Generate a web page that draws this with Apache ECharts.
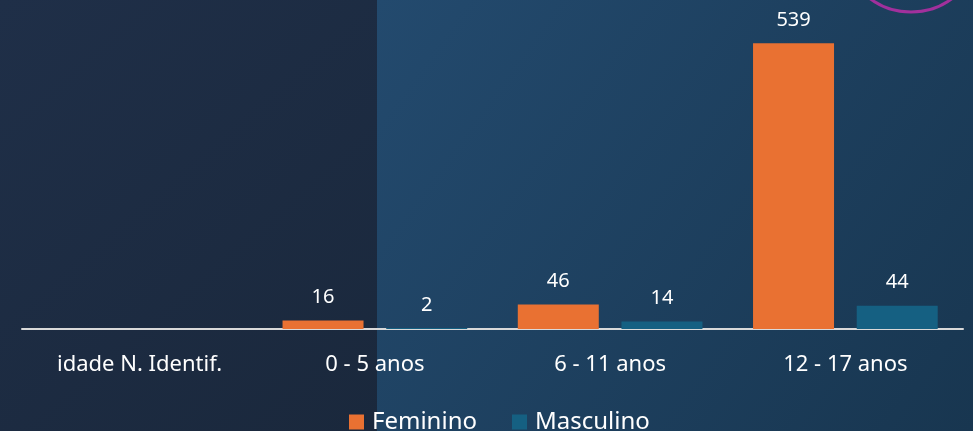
<!DOCTYPE html>
<html><head><meta charset="utf-8">
<script src="https://cdn.jsdelivr.net/npm/echarts@6/dist/echarts.min.js"></script>
<style>html,body{margin:0;padding:0;background:#1e2c43;}#c{width:973px;height:431px;}</style>
</head><body><div id="c"></div>
<script>
const categories = ['idade N. Identif.', '0 - 5 anos', '6 - 11 anos', '12 - 17 anos'];
const feminino = [null, 16, 46, 539];
const masculino = [null, 2, 14, 44];
const seriesNames = ['Feminino', 'Masculino'];

const chart = echarts.init(document.getElementById('c'));
const font = 'Noto Sans';
chart.setOption({
  animation: false,
  graphic: [
    {type:'rect', z:-10, shape:{x:0,y:0,width:377,height:431},
     style:{fill:new echarts.graphic.LinearGradient(0,0,1,1,[{offset:0,color:'#1f2f48'},{offset:1,color:'#1a283c'}])}},
    {type:'rect', z:-10, shape:{x:377,y:0,width:596,height:431},
     style:{fill:new echarts.graphic.LinearGradient(0,0,1,1,[{offset:0,color:'#234a6e'},{offset:1,color:'#183650'}])}},
    {type:'circle', z:-5, shape:{cx:911,cy:-57,r:69}, style:{fill:'none',stroke:'#a1309c',lineWidth:3}}
  ],
  grid: {left:22, right:10, top:11, bottom:102, containLabel:false},
  legend: {
    data: seriesNames, bottom: -8, left: 344, itemWidth:15, itemHeight:15, itemGap:35,
    icon:'rect', textStyle:{color:'#ffffff', fontSize:24, fontFamily:font, padding:[0,0,0,3]}
  },
  xAxis: {
    type:'category', data: categories,
    axisLine:{lineStyle:{color:'#d9d9d9', width:2}},
    axisTick:{show:false},
    axisLabel:{color:'#ffffff', fontSize:22, fontFamily:font, margin:25}
  },
  yAxis: {type:'value', min:0, max:600, show:false, splitLine:{show:false}},
  series: [
    {name:seriesNames[0], type:'bar', data:feminino, barWidth:81, barGap:'28%',
     itemStyle:{color:'#e97132'},
     label:{show:true, position:'top', distance:13, color:'#ffffff', fontSize:20, fontFamily:font}},
    {name:seriesNames[1], type:'bar', data:masculino, barWidth:81,
     itemStyle:{color:'#156082'},
     label:{show:true, position:'top', distance:13, color:'#ffffff', fontSize:20, fontFamily:font}}
  ]
});
</script></body></html>
